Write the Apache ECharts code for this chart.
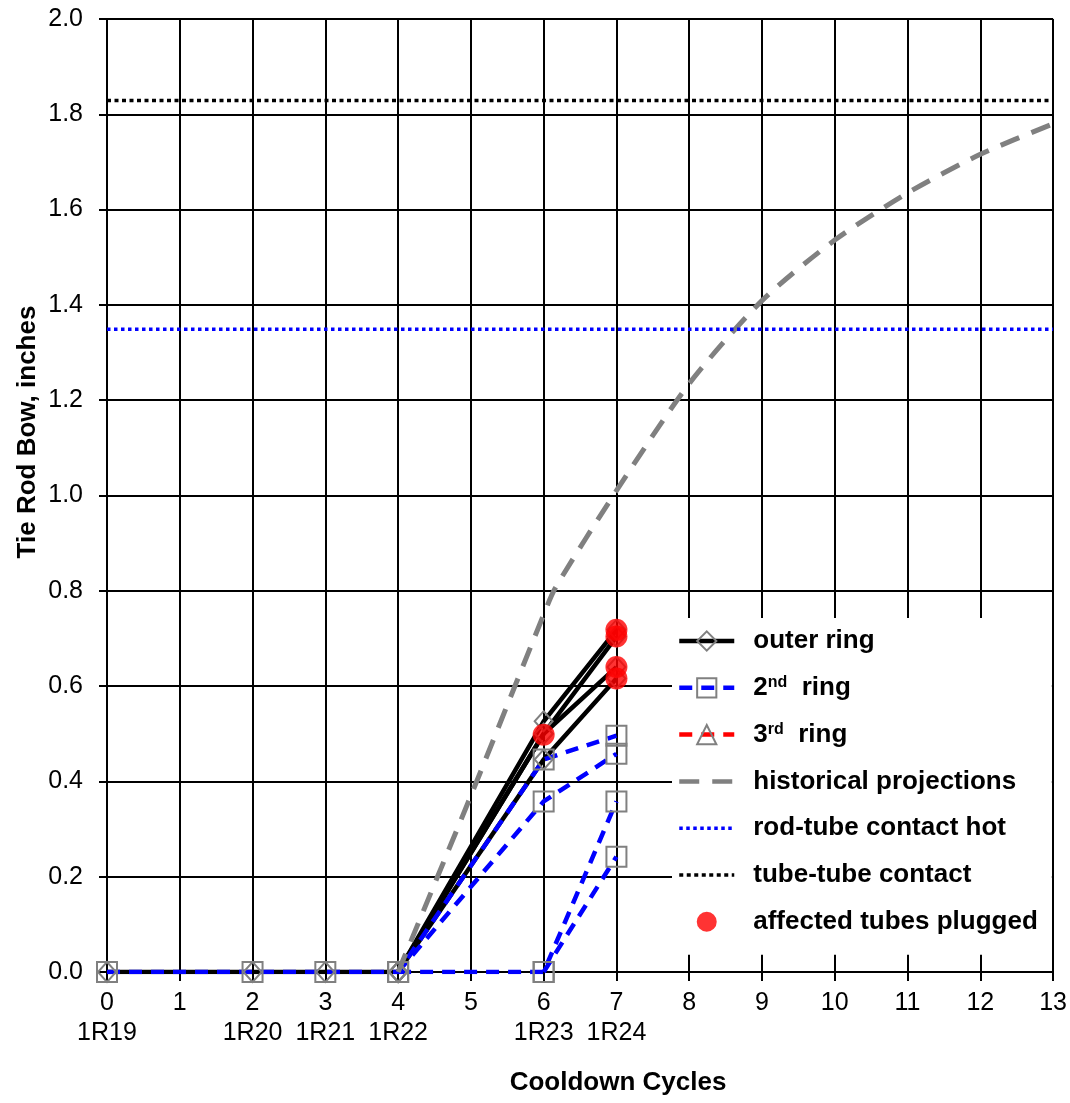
<!DOCTYPE html>
<html>
<head>
<meta charset="utf-8">
<script src="https://cdn.jsdelivr.net/npm/echarts@6/dist/echarts.min.js"></script>
<style>
  html, body { margin: 0; padding: 0; background: #fff; }
  #chart { width: 1070px; height: 1103px; }
</style>
</head>
<body>
<div id="chart"></div>
<script>
// tick labels under the cycle numbers
var cycleTicks = [0, 2, 3, 4, 6, 7];
var cycleNames = ['1R19', '1R20', '1R21', '1R22', '1R23', '1R24'];

// outer ring (black solid, diamond markers)
var outer1 = [[0, 0], [2, 0], [3, 0], [4, 0], [6, 0.526], [7, 0.718]];
var outer2 = [[4, 0], [6, 0.50], [7, 0.704]];
var outer3 = [[4, 0], [6, 0.50], [7, 0.64]];
var outer4 = [[4, 0], [6, 0.446], [7, 0.616]];

// 2nd ring (blue dashed, square markers)
var ring2a = [[0, 0], [2, 0], [3, 0], [4, 0], [6, 0.446], [7, 0.496]];
var ring2b = [[4, 0], [6, 0.358], [7, 0.458]];
var ring2c = [[4, 0], [6, 0], [7, 0.358]];
var ring2d = [[6, 0], [7, 0.242]];

// 3rd ring - nothing visible in the plot
var ring3 = [];

// historical projections (grey dashed)
var projection = [[4, 0], [5, 0.37], [6, 0.75], [6.16, 0.806], [7, 1.01], [8, 1.235],
  [9, 1.409], [10, 1.536], [11, 1.635], [12, 1.716], [13, 1.78]];

// contact limits
var rodTube = [[0, 1.349], [13, 1.349]];
var tubeTube = [[0, 1.829], [13, 1.829]];

// plugged tubes
var plugged = [[6, 0.498], [7, 0.718], [7, 0.704], [7, 0.64], [7, 0.616]];

var FONT = '"Liberation Sans", Arial, sans-serif';
var GREY = '#808080';
var NOFILL = 'rgba(0,0,0,0)';

function outerSeries(d) {
  return {
    name: 'outer ring', type: 'line', data: d,
    symbol: 'diamond', symbolSize: [18, 20],
    itemStyle: { color: NOFILL, borderColor: GREY, borderWidth: 2 },
    lineStyle: { color: '#000', width: 4.5 }
  };
}
function ring2Series(d) {
  return {
    name: '2nd ring', type: 'line', data: d,
    symbol: 'rect', symbolSize: 20,
    itemStyle: { color: NOFILL, borderColor: GREY, borderWidth: 2 },
    lineStyle: { color: '#0000ff', width: 4.5, type: [13, 9] }
  };
}

var chart = echarts.init(document.getElementById('chart'));

chart.setOption({
  backgroundColor: '#fff',
  animation: false,
  textStyle: { fontFamily: FONT },
  grid: { left: 107, right: 15, top: 19, bottom: 131, containLabel: false },
  xAxis: {
    type: 'value', min: 0, max: 13, interval: 1,
    axisLine: { onZero: false, lineStyle: { color: '#000', width: 2 } },
    axisTick: { show: true, length: 9, lineStyle: { color: '#000', width: 2 } },
    splitLine: { show: true, lineStyle: { color: '#000', width: 2 } },
    axisLabel: {
      color: '#000', fontSize: 25, lineHeight: 30, margin: 16, fontFamily: FONT,
      formatter: function (v) {
        var i = cycleTicks.indexOf(v);
        return i >= 0 ? v + '\n' + cycleNames[i] : String(v);
      }
    }
  },
  yAxis: {
    type: 'value', min: 0, max: 2, interval: 0.2,
    axisLine: { show: true, lineStyle: { color: '#000', width: 2 } },
    axisTick: { show: true, length: 8, lineStyle: { color: '#000', width: 2 } },
    splitLine: { show: true, lineStyle: { color: '#000', width: 2 } },
    axisLabel: {
      color: '#000', fontSize: 25, margin: 24, fontFamily: FONT,
      formatter: function (v) { return v.toFixed(1); }
    }
  },
  legend: {
    orient: 'vertical', left: 672, top: 618,
    backgroundColor: '#fff',
    padding: [10, 14, 20, 5],
    itemGap: 20.8, itemWidth: 55, itemHeight: 24,
    lineStyle: { width: 4.5 },
    data: ['outer ring', '2nd ring', '3rd ring', 'historical projections',
      { name: 'rod-tube contact hot', lineStyle: { width: 3.5 } },
      { name: 'tube-tube contact', lineStyle: { width: 3.5 } },
      {
        name: 'affected tubes plugged',
        icon: 'path://M2,12a10,10 0 1,0 20,0a10,10 0 1,0 -20,0z M0,0h0.01v0.01h-0.01z M24,24h0.01v0.01h-0.01z'
      }],
    formatter: function (name) {
      if (name === '2nd ring') return '{b|2}{sup|nd}{b|  ring}';
      if (name === '3rd ring') return '{b|3}{sup|rd}{b|  ring}';
      return '{b|' + name + '}';
    },
    textStyle: {
      padding: [0, 0, 0, 14],
      rich: {
        b: { fontSize: 26, fontWeight: 'bold', color: '#000', lineHeight: 26, fontFamily: FONT },
        sup: { fontSize: 16, fontWeight: 'bold', color: '#000', lineHeight: 14, verticalAlign: 'top', fontFamily: FONT }
      }
    }
  },
  graphic: [
    {
      type: 'text', x: 28, y: 432, rotation: Math.PI / 2,
      style: { text: 'Tie Rod Bow, inches', font: 'bold 26px ' + FONT, fill: '#000', align: 'center', verticalAlign: 'middle' }
    },
    {
      type: 'text', x: 618, y: 1083,
      style: { text: 'Cooldown Cycles', font: 'bold 26px ' + FONT, fill: '#000', align: 'center', verticalAlign: 'middle' }
    }
  ],
  series: [
    outerSeries(outer1), outerSeries(outer2), outerSeries(outer3), outerSeries(outer4),
    ring2Series(ring2a), ring2Series(ring2b), ring2Series(ring2c), ring2Series(ring2d),
    {
      name: '3rd ring', type: 'line', data: ring3,
      symbol: 'triangle', symbolSize: 20,
      itemStyle: { color: NOFILL, borderColor: GREY, borderWidth: 2 },
      lineStyle: { color: '#ff0000', width: 4.5, type: [13, 9] }
    },
    {
      name: 'historical projections', type: 'line', data: projection,
      symbol: 'circle', showSymbol: false, smooth: 0.25,
      itemStyle: { color: NOFILL },
      lineStyle: { color: GREY, width: 5, type: [20, 13] }
    },
    {
      name: 'rod-tube contact hot', type: 'line', data: rodTube,
      symbol: 'circle', showSymbol: false,
      itemStyle: { color: NOFILL },
      lineStyle: { color: '#0000ff', width: 3.5, type: [3.5, 3.5] }
    },
    {
      name: 'tube-tube contact', type: 'line', data: tubeTube,
      symbol: 'circle', showSymbol: false,
      itemStyle: { color: NOFILL },
      lineStyle: { color: '#000', width: 3.5, type: [4, 3.5] }
    },
    {
      name: 'affected tubes plugged', type: 'scatter', data: plugged,
      symbol: 'circle', symbolSize: 22, z: 5,
      itemStyle: { color: '#ff0000' }
    }
  ]
});
</script>
</body>
</html>
